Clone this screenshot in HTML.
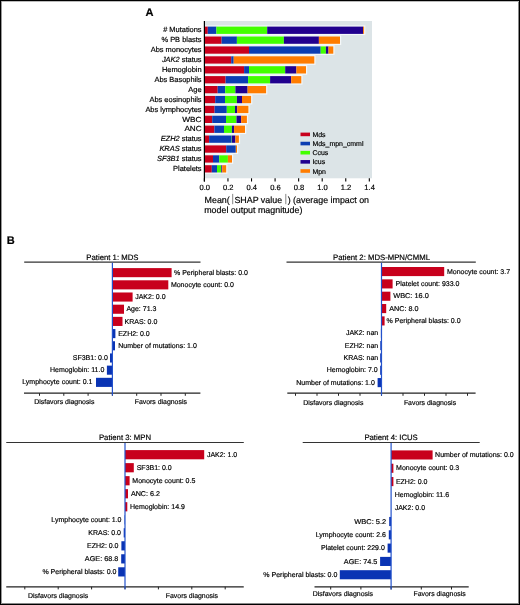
<!DOCTYPE html>
<html><head><meta charset="utf-8"><style>
html,body{margin:0;padding:0;background:#fff;}
body{width:520px;height:605px;overflow:hidden;position:relative;}
svg{position:absolute;left:0;top:0;display:block;font-family:"Liberation Sans", sans-serif;will-change:transform;}
text{stroke:#000;stroke-width:0.18px;paint-order:stroke;}
.frame{position:absolute;left:0;top:0;width:518px;height:603px;border:1px solid #000;box-shadow:inset 1px 0 0 #999,inset 0 1px 0 #bbb,inset -1px 0 0 #888,inset 0 -1px 0 #888;}
</style></head><body>
<svg width="520" height="605" viewBox="0 0 520 605" text-rendering="geometricPrecision">
<text x="145.50" y="16.30" font-size="11.1" text-anchor="start" font-weight="bold" font-style="normal" fill="#000">A</text>
<rect x="205.00" y="21.00" width="167.00" height="157.30" fill="#dce4e7" />
<rect x="205.00" y="25.40" width="160.30" height="9.70" fill="#f4f8fa" />
<rect x="205.00" y="35.30" width="136.20" height="9.70" fill="#f4f8fa" />
<rect x="205.00" y="45.20" width="129.50" height="9.70" fill="#f4f8fa" />
<rect x="205.00" y="55.10" width="110.50" height="9.70" fill="#f4f8fa" />
<rect x="205.00" y="65.00" width="102.20" height="9.70" fill="#f4f8fa" />
<rect x="205.00" y="74.90" width="97.50" height="9.70" fill="#f4f8fa" />
<rect x="205.00" y="84.80" width="62.30" height="9.70" fill="#f4f8fa" />
<rect x="205.00" y="94.70" width="47.30" height="9.70" fill="#f4f8fa" />
<rect x="205.00" y="104.60" width="44.60" height="9.70" fill="#f4f8fa" />
<rect x="205.00" y="114.50" width="43.10" height="9.70" fill="#f4f8fa" />
<rect x="205.00" y="124.40" width="41.20" height="9.70" fill="#f4f8fa" />
<rect x="205.00" y="134.30" width="35.10" height="9.70" fill="#f4f8fa" />
<rect x="205.00" y="144.20" width="33.20" height="9.70" fill="#f4f8fa" />
<rect x="205.00" y="154.10" width="28.20" height="9.70" fill="#f4f8fa" />
<rect x="205.00" y="164.00" width="22.40" height="9.70" fill="#f4f8fa" />
<rect x="205.00" y="26.60" width="2.80" height="7.30" fill="#c8001c" />
<rect x="207.80" y="26.60" width="8.60" height="7.30" fill="#0b3db2" />
<rect x="216.40" y="26.60" width="50.80" height="7.30" fill="#42ff00" />
<rect x="267.20" y="26.60" width="95.90" height="7.30" fill="#21008e" />
<rect x="363.10" y="26.60" width="1.00" height="7.30" fill="#ff7c00" />
<text x="201.60" y="32.40" font-size="7.45" text-anchor="end" font-weight="normal" font-style="normal" fill="#000"># Mutations</text>
<rect x="205.00" y="36.50" width="16.60" height="7.30" fill="#c8001c" />
<rect x="221.60" y="36.50" width="15.30" height="7.30" fill="#0b3db2" />
<rect x="236.90" y="36.50" width="47.00" height="7.30" fill="#42ff00" />
<rect x="283.90" y="36.50" width="35.00" height="7.30" fill="#21008e" />
<rect x="318.90" y="36.50" width="21.10" height="7.30" fill="#ff7c00" />
<text x="201.60" y="42.30" font-size="7.45" text-anchor="end" font-weight="normal" font-style="normal" fill="#000">% PB blasts</text>
<rect x="205.00" y="46.40" width="44.00" height="7.30" fill="#c8001c" />
<rect x="249.00" y="46.40" width="71.70" height="7.30" fill="#0b3db2" />
<rect x="320.70" y="46.40" width="5.20" height="7.30" fill="#42ff00" />
<rect x="325.90" y="46.40" width="2.60" height="7.30" fill="#21008e" />
<rect x="328.50" y="46.40" width="4.80" height="7.30" fill="#ff7c00" />
<text x="201.60" y="52.20" font-size="7.45" text-anchor="end" font-weight="normal" font-style="normal" fill="#000">Abs monocytes</text>
<rect x="205.00" y="56.30" width="26.20" height="7.30" fill="#c8001c" />
<rect x="231.20" y="56.30" width="2.50" height="7.30" fill="#0b3db2" />
<rect x="233.70" y="56.30" width="80.60" height="7.30" fill="#ff7c00" />
<text x="201.60" y="62.10" font-size="7.45" text-anchor="end" font-weight="normal" font-style="normal" fill="#000"><tspan font-style="italic">JAK2</tspan> status</text>
<rect x="205.00" y="66.20" width="39.10" height="7.30" fill="#c8001c" />
<rect x="244.10" y="66.20" width="4.90" height="7.30" fill="#0b3db2" />
<rect x="249.00" y="66.20" width="36.20" height="7.30" fill="#42ff00" />
<rect x="285.20" y="66.20" width="11.20" height="7.30" fill="#21008e" />
<rect x="296.40" y="66.20" width="9.60" height="7.30" fill="#ff7c00" />
<text x="201.60" y="72.00" font-size="7.45" text-anchor="end" font-weight="normal" font-style="normal" fill="#000">Hemoglobin</text>
<rect x="205.00" y="76.10" width="20.60" height="7.30" fill="#c8001c" />
<rect x="225.60" y="76.10" width="22.50" height="7.30" fill="#0b3db2" />
<rect x="248.10" y="76.10" width="22.00" height="7.30" fill="#42ff00" />
<rect x="270.10" y="76.10" width="21.10" height="7.30" fill="#21008e" />
<rect x="291.20" y="76.10" width="10.10" height="7.30" fill="#ff7c00" />
<text x="201.60" y="81.90" font-size="7.45" text-anchor="end" font-weight="normal" font-style="normal" fill="#000">Abs Basophils</text>
<rect x="205.00" y="86.00" width="12.70" height="7.30" fill="#c8001c" />
<rect x="217.70" y="86.00" width="7.50" height="7.30" fill="#0b3db2" />
<rect x="225.20" y="86.00" width="10.20" height="7.30" fill="#42ff00" />
<rect x="235.40" y="86.00" width="12.20" height="7.30" fill="#21008e" />
<rect x="247.60" y="86.00" width="18.50" height="7.30" fill="#ff7c00" />
<text x="201.60" y="91.80" font-size="7.45" text-anchor="end" font-weight="normal" font-style="normal" fill="#000">Age</text>
<rect x="205.00" y="95.90" width="10.20" height="7.30" fill="#c8001c" />
<rect x="215.20" y="95.90" width="9.80" height="7.30" fill="#0b3db2" />
<rect x="225.00" y="95.90" width="11.90" height="7.30" fill="#42ff00" />
<rect x="236.90" y="95.90" width="5.10" height="7.30" fill="#21008e" />
<rect x="242.00" y="95.90" width="9.10" height="7.30" fill="#ff7c00" />
<text x="201.60" y="101.70" font-size="7.45" text-anchor="end" font-weight="normal" font-style="normal" fill="#000">Abs eosinophils</text>
<rect x="205.00" y="105.80" width="9.60" height="7.30" fill="#c8001c" />
<rect x="214.60" y="105.80" width="12.20" height="7.30" fill="#0b3db2" />
<rect x="226.80" y="105.80" width="8.20" height="7.30" fill="#42ff00" />
<rect x="235.00" y="105.80" width="2.20" height="7.30" fill="#21008e" />
<rect x="237.20" y="105.80" width="11.20" height="7.30" fill="#ff7c00" />
<text x="201.60" y="111.60" font-size="7.45" text-anchor="end" font-weight="normal" font-style="normal" fill="#000">Abs lymphocytes</text>
<rect x="205.00" y="115.70" width="7.20" height="7.30" fill="#c8001c" />
<rect x="212.20" y="115.70" width="13.80" height="7.30" fill="#0b3db2" />
<rect x="226.00" y="115.70" width="10.50" height="7.30" fill="#42ff00" />
<rect x="236.50" y="115.70" width="4.70" height="7.30" fill="#21008e" />
<rect x="241.20" y="115.70" width="5.70" height="7.30" fill="#ff7c00" />
<text x="201.60" y="121.50" font-size="7.45" text-anchor="end" font-weight="normal" font-style="normal" fill="#000" textLength="19.3" lengthAdjust="spacingAndGlyphs">WBC</text>
<rect x="205.00" y="125.60" width="9.40" height="7.30" fill="#c8001c" />
<rect x="214.40" y="125.60" width="9.60" height="7.30" fill="#0b3db2" />
<rect x="224.00" y="125.60" width="7.90" height="7.30" fill="#42ff00" />
<rect x="231.90" y="125.60" width="2.20" height="7.30" fill="#21008e" />
<rect x="234.10" y="125.60" width="10.90" height="7.30" fill="#ff7c00" />
<text x="201.60" y="131.40" font-size="7.45" text-anchor="end" font-weight="normal" font-style="normal" fill="#000" textLength="17.2" lengthAdjust="spacingAndGlyphs">ANC</text>
<rect x="205.00" y="135.50" width="4.10" height="7.30" fill="#c8001c" />
<rect x="209.10" y="135.50" width="22.60" height="7.30" fill="#0b3db2" />
<rect x="231.70" y="135.50" width="0.30" height="7.30" fill="#42ff00" />
<rect x="232.00" y="135.50" width="3.40" height="7.30" fill="#21008e" />
<rect x="235.40" y="135.50" width="3.50" height="7.30" fill="#ff7c00" />
<text x="201.60" y="141.30" font-size="7.45" text-anchor="end" font-weight="normal" font-style="normal" fill="#000"><tspan font-style="italic">EZH2</tspan> status</text>
<rect x="205.00" y="145.40" width="21.20" height="7.30" fill="#c8001c" />
<rect x="226.20" y="145.40" width="9.60" height="7.30" fill="#0b3db2" />
<rect x="235.80" y="145.40" width="1.20" height="7.30" fill="#ff7c00" />
<text x="201.60" y="151.20" font-size="7.45" text-anchor="end" font-weight="normal" font-style="normal" fill="#000"><tspan font-style="italic">KRAS</tspan> status</text>
<rect x="205.00" y="155.30" width="8.00" height="7.30" fill="#c8001c" />
<rect x="213.00" y="155.30" width="6.20" height="7.30" fill="#0b3db2" />
<rect x="219.20" y="155.30" width="8.70" height="7.30" fill="#42ff00" />
<rect x="227.90" y="155.30" width="4.10" height="7.30" fill="#ff7c00" />
<text x="201.60" y="161.10" font-size="7.45" text-anchor="end" font-weight="normal" font-style="normal" fill="#000"><tspan font-style="italic">SF3B1</tspan> status</text>
<rect x="205.00" y="165.20" width="6.80" height="7.30" fill="#c8001c" />
<rect x="211.80" y="165.20" width="5.20" height="7.30" fill="#0b3db2" />
<rect x="217.00" y="165.20" width="4.30" height="7.30" fill="#42ff00" />
<rect x="221.30" y="165.20" width="1.00" height="7.30" fill="#21008e" />
<rect x="222.30" y="165.20" width="3.90" height="7.30" fill="#ff7c00" />
<text x="201.60" y="171.00" font-size="7.45" text-anchor="end" font-weight="normal" font-style="normal" fill="#000">Platelets</text>
<line x1="204.40" y1="21.00" x2="204.40" y2="181.50" stroke="#000" stroke-width="1.2"/>
<line x1="204.40" y1="178.30" x2="204.40" y2="181.50" stroke="#000" stroke-width="1.1"/>
<text x="204.70" y="190.10" font-size="7.55" text-anchor="middle" font-weight="normal" font-style="normal" fill="#000">0.0</text>
<line x1="227.96" y1="178.30" x2="227.96" y2="181.50" stroke="#000" stroke-width="1.1"/>
<text x="228.26" y="190.10" font-size="7.55" text-anchor="middle" font-weight="normal" font-style="normal" fill="#000">0.2</text>
<line x1="251.52" y1="178.30" x2="251.52" y2="181.50" stroke="#000" stroke-width="1.1"/>
<text x="251.82" y="190.10" font-size="7.55" text-anchor="middle" font-weight="normal" font-style="normal" fill="#000">0.4</text>
<line x1="275.08" y1="178.30" x2="275.08" y2="181.50" stroke="#000" stroke-width="1.1"/>
<text x="275.38" y="190.10" font-size="7.55" text-anchor="middle" font-weight="normal" font-style="normal" fill="#000">0.6</text>
<line x1="298.64" y1="178.30" x2="298.64" y2="181.50" stroke="#000" stroke-width="1.1"/>
<text x="298.94" y="190.10" font-size="7.55" text-anchor="middle" font-weight="normal" font-style="normal" fill="#000">0.8</text>
<line x1="322.20" y1="178.30" x2="322.20" y2="181.50" stroke="#000" stroke-width="1.1"/>
<text x="322.50" y="190.10" font-size="7.55" text-anchor="middle" font-weight="normal" font-style="normal" fill="#000">1.0</text>
<line x1="345.76" y1="178.30" x2="345.76" y2="181.50" stroke="#000" stroke-width="1.1"/>
<text x="346.06" y="190.10" font-size="7.55" text-anchor="middle" font-weight="normal" font-style="normal" fill="#000">1.2</text>
<line x1="369.32" y1="178.30" x2="369.32" y2="181.50" stroke="#000" stroke-width="1.1"/>
<text x="369.62" y="190.10" font-size="7.55" text-anchor="middle" font-weight="normal" font-style="normal" fill="#000">1.4</text>
<text x="204.57" y="202.80" font-size="8.9" text-anchor="start" font-weight="normal" font-style="normal" fill="#000">Mean(</text>
<line x1="232.70" y1="193.90" x2="232.70" y2="204.20" stroke="#333" stroke-width="0.6"/>
<text x="234.40" y="202.80" font-size="8.9" text-anchor="start" font-weight="normal" font-style="normal" fill="#000">SHAP value</text>
<line x1="285.80" y1="193.90" x2="285.80" y2="204.20" stroke="#333" stroke-width="0.6"/>
<text x="287.66" y="202.80" font-size="8.9" text-anchor="start" font-weight="normal" font-style="normal" fill="#000">) (average impact on</text>
<text x="204.21" y="213.30" font-size="8.9" text-anchor="start" font-weight="normal" font-style="normal" fill="#000">model output magnitude)</text>
<rect x="300.50" y="132.60" width="9.50" height="3.60" fill="#c8001c" />
<text x="312.44" y="136.90" font-size="6.96" text-anchor="start" font-weight="normal" font-style="normal" fill="#000">Mds</text>
<rect x="300.50" y="141.75" width="9.50" height="3.60" fill="#0b3db2" />
<text x="312.44" y="146.05" font-size="6.96" text-anchor="start" font-weight="normal" font-style="normal" fill="#000">Mds_mpn_cmml</text>
<rect x="300.50" y="150.90" width="9.50" height="3.60" fill="#42ff00" />
<text x="312.44" y="155.20" font-size="6.96" text-anchor="start" font-weight="normal" font-style="normal" fill="#000">Ccus</text>
<rect x="300.50" y="160.05" width="9.50" height="3.60" fill="#21008e" />
<text x="312.44" y="164.35" font-size="6.96" text-anchor="start" font-weight="normal" font-style="normal" fill="#000">Icus</text>
<rect x="300.50" y="169.20" width="9.50" height="3.60" fill="#ff7c00" />
<text x="312.44" y="173.50" font-size="6.96" text-anchor="start" font-weight="normal" font-style="normal" fill="#000">Mpn</text>
<text x="6.70" y="244.20" font-size="11" text-anchor="start" font-weight="bold" font-style="normal" fill="#000">B</text>
<text x="112.40" y="259.50" font-size="7.75" text-anchor="middle" font-weight="normal" font-style="normal" fill="#000">Patient 1: MDS</text>
<line x1="24.20" y1="262.20" x2="200.50" y2="262.20" stroke="#333" stroke-width="1.2"/>
<line x1="24.00" y1="393.20" x2="200.40" y2="393.20" stroke="#222" stroke-width="1.2"/>
<line x1="39.50" y1="393.20" x2="39.50" y2="395.80" stroke="#222" stroke-width="1.0"/>
<line x1="63.80" y1="393.20" x2="63.80" y2="395.80" stroke="#222" stroke-width="1.0"/>
<line x1="88.10" y1="393.20" x2="88.10" y2="395.80" stroke="#222" stroke-width="1.0"/>
<line x1="112.40" y1="393.20" x2="112.40" y2="395.80" stroke="#222" stroke-width="1.0"/>
<line x1="136.70" y1="393.20" x2="136.70" y2="395.80" stroke="#222" stroke-width="1.0"/>
<line x1="161.00" y1="393.20" x2="161.00" y2="395.80" stroke="#222" stroke-width="1.0"/>
<line x1="185.30" y1="393.20" x2="185.30" y2="395.80" stroke="#222" stroke-width="1.0"/>
<rect x="112.40" y="268.10" width="59.20" height="9.10" fill="#c8001c" />
<text x="174.00" y="274.75" font-size="7.0" text-anchor="start" font-weight="normal" font-style="normal" fill="#000">% Peripheral blasts: 0.0</text>
<rect x="112.40" y="280.29" width="55.90" height="9.10" fill="#c8001c" />
<text x="170.90" y="286.94" font-size="7.0" text-anchor="start" font-weight="normal" font-style="normal" fill="#000">Monocyte count: 0.0</text>
<rect x="112.40" y="292.48" width="20.20" height="9.10" fill="#c8001c" />
<text x="135.20" y="299.13" font-size="7.0" text-anchor="start" font-weight="normal" font-style="normal" fill="#000">JAK2: 0.0</text>
<rect x="112.40" y="304.67" width="11.60" height="9.10" fill="#c8001c" />
<text x="126.40" y="311.32" font-size="7.0" text-anchor="start" font-weight="normal" font-style="normal" fill="#000">Age: 71.3</text>
<rect x="112.40" y="316.86" width="10.10" height="9.10" fill="#c8001c" />
<text x="124.60" y="323.51" font-size="7.0" text-anchor="start" font-weight="normal" font-style="normal" fill="#000">KRAS: 0.0</text>
<rect x="112.40" y="329.05" width="3.00" height="9.10" fill="#0a34b4" />
<text x="118.20" y="335.70" font-size="7.0" text-anchor="start" font-weight="normal" font-style="normal" fill="#000">EZH2: 0.0</text>
<rect x="112.40" y="341.24" width="2.60" height="9.10" fill="#0a34b4" />
<text x="118.20" y="347.89" font-size="7.0" text-anchor="start" font-weight="normal" font-style="normal" fill="#000">Number of mutations: 1.0</text>
<rect x="110.00" y="353.43" width="2.40" height="9.10" fill="#0a34b4" />
<text x="107.80" y="360.08" font-size="7.0" text-anchor="end" font-weight="normal" font-style="normal" fill="#000">SF3B1: 0.0</text>
<rect x="106.90" y="365.62" width="5.50" height="9.10" fill="#0a34b4" />
<text x="104.30" y="372.27" font-size="7.0" text-anchor="end" font-weight="normal" font-style="normal" fill="#000">Hemoglobin: 11.0</text>
<rect x="96.00" y="377.81" width="16.40" height="9.10" fill="#0a34b4" />
<text x="92.40" y="384.46" font-size="7.0" text-anchor="end" font-weight="normal" font-style="normal" fill="#000">Lymphocyte count: 0.1</text>
<line x1="112.40" y1="262.80" x2="112.40" y2="395.50" stroke="#2352cc" stroke-width="1.2"/>
<text x="64.30" y="404.30" font-size="6.95" text-anchor="middle" font-weight="normal" font-style="normal" fill="#000">Disfavors diagnosis</text>
<text x="160.80" y="404.30" font-size="6.92" text-anchor="middle" font-weight="normal" font-style="normal" fill="#000">Favors diagnosis</text>
<text x="381.50" y="259.50" font-size="7.75" text-anchor="middle" font-weight="normal" font-style="normal" fill="#000">Patient 2: MDS-MPN/CMML</text>
<line x1="286.50" y1="262.20" x2="475.80" y2="262.20" stroke="#333" stroke-width="1.2"/>
<line x1="287.30" y1="393.20" x2="475.60" y2="393.20" stroke="#222" stroke-width="1.2"/>
<line x1="295.50" y1="393.20" x2="295.50" y2="395.80" stroke="#222" stroke-width="1.0"/>
<line x1="317.00" y1="393.20" x2="317.00" y2="395.80" stroke="#222" stroke-width="1.0"/>
<line x1="338.50" y1="393.20" x2="338.50" y2="395.80" stroke="#222" stroke-width="1.0"/>
<line x1="360.00" y1="393.20" x2="360.00" y2="395.80" stroke="#222" stroke-width="1.0"/>
<line x1="381.50" y1="393.20" x2="381.50" y2="395.80" stroke="#222" stroke-width="1.0"/>
<line x1="403.00" y1="393.20" x2="403.00" y2="395.80" stroke="#222" stroke-width="1.0"/>
<line x1="424.50" y1="393.20" x2="424.50" y2="395.80" stroke="#222" stroke-width="1.0"/>
<line x1="446.00" y1="393.20" x2="446.00" y2="395.80" stroke="#222" stroke-width="1.0"/>
<line x1="467.50" y1="393.20" x2="467.50" y2="395.80" stroke="#222" stroke-width="1.0"/>
<rect x="381.50" y="267.00" width="62.70" height="9.10" fill="#c8001c" />
<text x="447.00" y="273.65" font-size="7.0" text-anchor="start" font-weight="normal" font-style="normal" fill="#000">Monocyte count: 3.7</text>
<rect x="381.50" y="279.34" width="11.10" height="9.10" fill="#c8001c" />
<text x="395.60" y="285.99" font-size="7.0" text-anchor="start" font-weight="normal" font-style="normal" fill="#000">Platelet count: 933.0</text>
<rect x="381.50" y="291.68" width="8.90" height="9.10" fill="#c8001c" />
<text x="393.20" y="298.33" font-size="7.0" text-anchor="start" font-weight="normal" font-style="normal" fill="#000" textLength="35.6" lengthAdjust="spacingAndGlyphs">WBC: 16.0</text>
<rect x="381.50" y="304.02" width="4.70" height="9.10" fill="#c8001c" />
<text x="389.30" y="310.67" font-size="7.0" text-anchor="start" font-weight="normal" font-style="normal" fill="#000" textLength="29.2" lengthAdjust="spacingAndGlyphs">ANC: 8.0</text>
<rect x="381.50" y="316.36" width="3.10" height="9.10" fill="#c8001c" />
<text x="386.60" y="323.01" font-size="7.0" text-anchor="start" font-weight="normal" font-style="normal" fill="#000">% Peripheral blasts: 0.0</text>
<rect x="380.90" y="328.70" width="0.60" height="9.10" fill="#0a34b4" />
<text x="378.20" y="335.35" font-size="7.0" text-anchor="end" font-weight="normal" font-style="normal" fill="#000">JAK2: nan</text>
<rect x="380.30" y="341.04" width="1.20" height="9.10" fill="#0a34b4" />
<text x="378.20" y="347.69" font-size="7.0" text-anchor="end" font-weight="normal" font-style="normal" fill="#000">EZH2: nan</text>
<rect x="380.20" y="353.38" width="1.30" height="9.10" fill="#0a34b4" />
<text x="378.20" y="360.03" font-size="7.0" text-anchor="end" font-weight="normal" font-style="normal" fill="#000">KRAS: nan</text>
<rect x="380.20" y="365.72" width="1.30" height="9.10" fill="#0a34b4" />
<text x="377.70" y="372.37" font-size="7.0" text-anchor="end" font-weight="normal" font-style="normal" fill="#000">Hemoglobin: 7.0</text>
<rect x="377.60" y="378.06" width="3.90" height="9.10" fill="#0a34b4" />
<text x="374.80" y="384.71" font-size="7.0" text-anchor="end" font-weight="normal" font-style="normal" fill="#000">Number of mutations: 1.0</text>
<line x1="381.50" y1="262.80" x2="381.50" y2="395.50" stroke="#2352cc" stroke-width="1.2"/>
<text x="333.30" y="404.60" font-size="6.95" text-anchor="middle" font-weight="normal" font-style="normal" fill="#000">Disfavors diagnosis</text>
<text x="430.00" y="404.60" font-size="6.92" text-anchor="middle" font-weight="normal" font-style="normal" fill="#000">Favors diagnosis</text>
<text x="125.00" y="439.80" font-size="7.75" text-anchor="middle" font-weight="normal" font-style="normal" fill="#000">Patient 3: MPN</text>
<line x1="6.25" y1="442.50" x2="243.80" y2="442.50" stroke="#333" stroke-width="1.2"/>
<line x1="6.25" y1="586.80" x2="243.75" y2="586.80" stroke="#222" stroke-width="1.2"/>
<line x1="24.80" y1="586.80" x2="24.80" y2="589.40" stroke="#222" stroke-width="1.0"/>
<line x1="58.20" y1="586.80" x2="58.20" y2="589.40" stroke="#222" stroke-width="1.0"/>
<line x1="91.60" y1="586.80" x2="91.60" y2="589.40" stroke="#222" stroke-width="1.0"/>
<line x1="125.00" y1="586.80" x2="125.00" y2="589.40" stroke="#222" stroke-width="1.0"/>
<line x1="158.40" y1="586.80" x2="158.40" y2="589.40" stroke="#222" stroke-width="1.0"/>
<line x1="191.80" y1="586.80" x2="191.80" y2="589.40" stroke="#222" stroke-width="1.0"/>
<line x1="225.20" y1="586.80" x2="225.20" y2="589.40" stroke="#222" stroke-width="1.0"/>
<rect x="125.00" y="450.10" width="79.20" height="9.20" fill="#c8001c" />
<text x="206.90" y="456.80" font-size="7.0" text-anchor="start" font-weight="normal" font-style="normal" fill="#000">JAK2: 1.0</text>
<rect x="125.00" y="463.12" width="8.80" height="9.20" fill="#c8001c" />
<text x="136.70" y="469.82" font-size="7.0" text-anchor="start" font-weight="normal" font-style="normal" fill="#000">SF3B1: 0.0</text>
<rect x="125.00" y="476.14" width="4.60" height="9.20" fill="#c8001c" />
<text x="132.30" y="482.84" font-size="7.0" text-anchor="start" font-weight="normal" font-style="normal" fill="#000">Monocyte count: 0.5</text>
<rect x="125.00" y="489.16" width="3.00" height="9.20" fill="#c8001c" />
<text x="130.90" y="495.86" font-size="7.0" text-anchor="start" font-weight="normal" font-style="normal" fill="#000" textLength="29.1" lengthAdjust="spacingAndGlyphs">ANC: 6.2</text>
<rect x="125.00" y="502.18" width="2.30" height="9.20" fill="#c8001c" />
<text x="130.00" y="508.88" font-size="7.0" text-anchor="start" font-weight="normal" font-style="normal" fill="#000">Hemoglobin: 14.9</text>
<rect x="124.60" y="515.20" width="0.40" height="9.20" fill="#0a34b4" />
<text x="121.50" y="521.90" font-size="7.0" text-anchor="end" font-weight="normal" font-style="normal" fill="#000">Lymphocyte count: 1.0</text>
<rect x="123.70" y="528.22" width="1.30" height="9.20" fill="#0a34b4" />
<text x="121.00" y="534.92" font-size="7.0" text-anchor="end" font-weight="normal" font-style="normal" fill="#000">KRAS: 0.0</text>
<rect x="121.40" y="541.24" width="3.60" height="9.20" fill="#0a34b4" />
<text x="118.50" y="547.94" font-size="7.0" text-anchor="end" font-weight="normal" font-style="normal" fill="#000">EZH2: 0.0</text>
<rect x="121.20" y="554.26" width="3.80" height="9.20" fill="#0a34b4" />
<text x="118.30" y="560.96" font-size="7.0" text-anchor="end" font-weight="normal" font-style="normal" fill="#000" textLength="33.5" lengthAdjust="spacingAndGlyphs">AGE: 68.8</text>
<rect x="118.20" y="567.28" width="6.80" height="9.20" fill="#0a34b4" />
<text x="116.40" y="573.98" font-size="7.0" text-anchor="end" font-weight="normal" font-style="normal" fill="#000">% Peripheral blasts: 0.0</text>
<line x1="125.00" y1="443.10" x2="125.00" y2="589.30" stroke="#2352cc" stroke-width="1.2"/>
<text x="58.10" y="597.90" font-size="6.95" text-anchor="middle" font-weight="normal" font-style="normal" fill="#000">Disfavors diagnosis</text>
<text x="191.90" y="597.90" font-size="6.92" text-anchor="middle" font-weight="normal" font-style="normal" fill="#000">Favors diagnosis</text>
<text x="391.10" y="439.80" font-size="7.75" text-anchor="middle" font-weight="normal" font-style="normal" fill="#000">Patient 4: ICUS</text>
<line x1="302.70" y1="442.50" x2="479.70" y2="442.50" stroke="#333" stroke-width="1.2"/>
<line x1="314.50" y1="586.90" x2="468.70" y2="586.90" stroke="#222" stroke-width="1.2"/>
<line x1="330.70" y1="586.90" x2="330.70" y2="589.50" stroke="#222" stroke-width="1.0"/>
<line x1="360.90" y1="586.90" x2="360.90" y2="589.50" stroke="#222" stroke-width="1.0"/>
<line x1="391.10" y1="586.90" x2="391.10" y2="589.50" stroke="#222" stroke-width="1.0"/>
<line x1="421.30" y1="586.90" x2="421.30" y2="589.50" stroke="#222" stroke-width="1.0"/>
<line x1="451.50" y1="586.90" x2="451.50" y2="589.50" stroke="#222" stroke-width="1.0"/>
<rect x="391.10" y="450.40" width="41.50" height="9.10" fill="#c8001c" />
<text x="435.10" y="457.05" font-size="7.0" text-anchor="start" font-weight="normal" font-style="normal" fill="#000">Number of mutations: 0.0</text>
<rect x="391.10" y="463.71" width="2.30" height="9.10" fill="#c8001c" />
<text x="396.10" y="470.36" font-size="7.0" text-anchor="start" font-weight="normal" font-style="normal" fill="#000">Monocyte count: 0.3</text>
<rect x="391.10" y="477.02" width="2.30" height="9.10" fill="#c8001c" />
<text x="395.90" y="483.67" font-size="7.0" text-anchor="start" font-weight="normal" font-style="normal" fill="#000">EZH2: 0.0</text>
<text x="394.70" y="496.98" font-size="7.0" text-anchor="start" font-weight="normal" font-style="normal" fill="#000">Hemoglobin: 11.6</text>
<text x="394.70" y="510.29" font-size="7.0" text-anchor="start" font-weight="normal" font-style="normal" fill="#000">JAK2: 0.0</text>
<rect x="389.20" y="516.95" width="1.90" height="9.10" fill="#0a34b4" />
<text x="386.20" y="523.60" font-size="7.0" text-anchor="end" font-weight="normal" font-style="normal" fill="#000" textLength="32.0" lengthAdjust="spacingAndGlyphs">WBC: 5.2</text>
<rect x="388.80" y="530.26" width="2.30" height="9.10" fill="#0a34b4" />
<text x="385.90" y="536.91" font-size="7.0" text-anchor="end" font-weight="normal" font-style="normal" fill="#000">Lymphocyte count: 2.6</text>
<rect x="387.60" y="543.57" width="3.50" height="9.10" fill="#0a34b4" />
<text x="384.80" y="550.22" font-size="7.0" text-anchor="end" font-weight="normal" font-style="normal" fill="#000">Platelet count: 229.0</text>
<rect x="380.10" y="556.88" width="11.00" height="9.10" fill="#0a34b4" />
<text x="377.40" y="563.53" font-size="7.0" text-anchor="end" font-weight="normal" font-style="normal" fill="#000" textLength="33.6" lengthAdjust="spacingAndGlyphs">AGE: 74.5</text>
<rect x="339.80" y="570.19" width="51.30" height="9.10" fill="#0a34b4" />
<text x="337.30" y="576.84" font-size="7.0" text-anchor="end" font-weight="normal" font-style="normal" fill="#000">% Peripheral blasts: 0.0</text>
<line x1="391.10" y1="443.10" x2="391.10" y2="589.50" stroke="#2352cc" stroke-width="1.2"/>
<text x="342.90" y="596.40" font-size="6.95" text-anchor="middle" font-weight="normal" font-style="normal" fill="#000">Disfavors diagnosis</text>
<text x="439.60" y="596.40" font-size="6.92" text-anchor="middle" font-weight="normal" font-style="normal" fill="#000">Favors diagnosis</text>
</svg>
<div class="frame"></div>
</body></html>
